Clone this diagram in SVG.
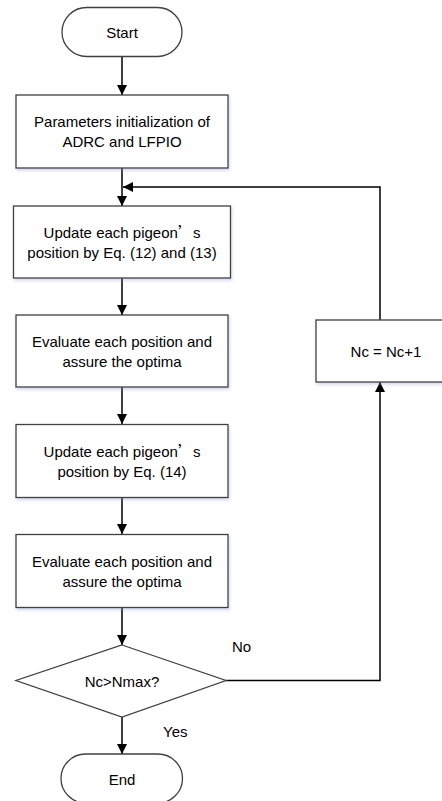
<svg xmlns="http://www.w3.org/2000/svg" width="442" height="801" viewBox="0 0 442 801">
<style>
.shape{fill:#fff;stroke:#404040;stroke-width:1.3}
.line{fill:none;stroke:#000;stroke-width:1.5}
text{font-family:"Liberation Sans",Arial,sans-serif;font-size:15px;fill:#000;text-anchor:middle}
.lbl{text-anchor:start}
.q{font-family:"Noto Sans CJK SC","Liberation Sans",sans-serif}
</style>
<defs>
<marker id="ah" markerWidth="10" markerHeight="10" refX="10" refY="5" orient="auto" markerUnits="userSpaceOnUse">
<path d="M0,0 L10,5 L0,10 z" fill="#000"/>
</marker>
<filter id="sh" x="-10%" y="-10%" width="120%" height="130%">
<feDropShadow dx="1" dy="2" stdDeviation="1.5" flood-color="#8088c8" flood-opacity="0.35"/>
</filter>
</defs>
<rect width="442" height="801" fill="#fff"/>
<g id="connectors">
<line class="line" x1="122" y1="57" x2="122" y2="95" marker-end="url(#ah)"/>
<line class="line" x1="122" y1="168" x2="122" y2="206" marker-end="url(#ah)"/>
<polyline class="line" points="380,320 380,187 123,187" marker-end="url(#ah)"/>
<line class="line" x1="122" y1="278" x2="122" y2="315" marker-end="url(#ah)"/>
<line class="line" x1="122" y1="387" x2="122" y2="424" marker-end="url(#ah)"/>
<line class="line" x1="122" y1="497" x2="122" y2="534" marker-end="url(#ah)"/>
<line class="line" x1="122" y1="607" x2="122" y2="645" marker-end="url(#ah)"/>
<line class="line" x1="122" y1="717" x2="122" y2="754" marker-end="url(#ah)"/>
<polyline class="line" points="226,680.5 380,680.5 380,382" marker-end="url(#ah)"/>
<text class="lbl" x="232" y="652">No</text>
<text class="lbl" x="163" y="737">Yes</text>
</g>
<g id="start">
<rect class="shape" x="62" y="7.5" width="120" height="49" rx="24.5" ry="24.5"/>
<text x="122" y="38">Start</text>
</g>
<g id="init">
<rect class="shape" filter="url(#sh)" x="16" y="95" width="212" height="73"/>
<text x="122" y="127">Parameters initialization of</text>
<text x="122" y="147">ADRC and LFPIO</text>
</g>
<g id="update1">
<rect class="shape" filter="url(#sh)" x="13.5" y="206" width="217" height="72"/>
<text x="122" y="238">Update each pigeon<tspan class="q">’</tspan>s</text>
<text x="122" y="258">position by Eq. (12) and (13)</text>
</g>
<g id="eval1">
<rect class="shape" filter="url(#sh)" x="16" y="315" width="212" height="72"/>
<text x="122" y="347">Evaluate each position and</text>
<text x="122" y="367">assure the optima</text>
</g>
<g id="update2">
<rect class="shape" filter="url(#sh)" x="16" y="424.5" width="212" height="73"/>
<text x="122" y="457">Update each pigeon<tspan class="q">’</tspan>s</text>
<text x="122" y="477">position by Eq. (14)</text>
</g>
<g id="eval2">
<rect class="shape" filter="url(#sh)" x="16" y="534.5" width="212" height="73"/>
<text x="122" y="567">Evaluate each position and</text>
<text x="122" y="587">assure the optima</text>
</g>
<g id="decision">
<polygon class="shape" points="122,645 226,680.5 122,717 16,680.5"/>
<text x="122" y="687">Nc&gt;Nmax?</text>
</g>
<g id="increment">
<rect class="shape" filter="url(#sh)" x="316" y="320" width="130" height="62"/>
<text x="386" y="357">Nc = Nc+1</text>
</g>
<g id="end">
<rect class="shape" x="61" y="754" width="121.5" height="49" rx="24.5" ry="24.5"/>
<text x="122" y="785">End</text>
</g>
</svg>
